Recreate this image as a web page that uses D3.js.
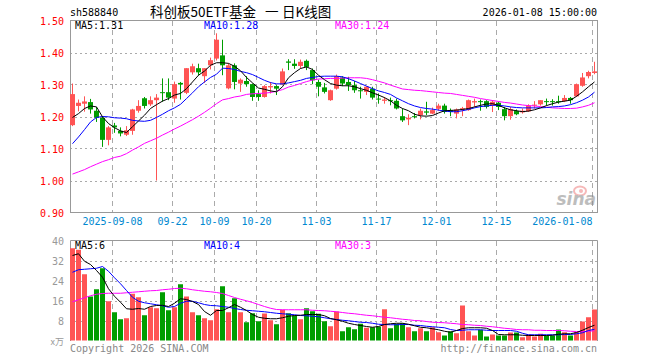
<!DOCTYPE html>
<html>
<head>
<meta charset="utf-8">
<script src="https://cdn.jsdelivr.net/npm/d3@7"></script>
<style>
  body { margin: 0; background: #fff; }
  svg text { font-family: "DejaVu Sans Mono", monospace; font-size: 10px; }
</style>
</head>
<body>
<div id="chart"></div>
<script>
// daily candles, 2025-08-28 .. 2026-01-08 (88 trading days)
var open  = [1.173,1.233,1.240,1.245,1.218,1.196,1.127,1.172,1.155,1.143,1.155,1.218,1.257,1.238,1.251,1.276,1.276,1.256,1.305,1.274,1.338,1.351,1.326,1.360,1.381,
             1.391,1.288,1.360,1.303,1.311,1.301,1.270,1.261,1.291,1.295,1.301,1.372,1.365,1.358,1.374,1.345,1.308,1.291,1.251,1.287,1.322,1.308,1.298,1.282,1.277,1.287,1.256,1.249,1.251,1.249,1.201,1.191,1.201,1.204,1.216,1.209,1.224,
             1.234,1.219,1.209,1.222,1.220,1.244,1.248,1.248,1.235,1.243,1.223,1.201,1.217,1.213,1.216,1.234,1.238,1.248,1.248,1.248,1.248,1.258,1.263,1.296,1.326,1.336];
var close = [1.270,1.243,1.247,1.222,1.196,1.127,1.166,1.166,1.147,1.157,1.222,1.233,1.233,1.251,1.259,1.274,1.259,1.301,1.300,1.351,1.357,1.338,1.351,1.376,1.440,
             1.360,1.360,1.308,1.315,1.301,1.261,1.261,1.295,1.295,1.287,1.341,1.368,1.358,1.371,1.355,1.313,1.293,1.277,1.282,1.326,1.303,1.298,1.282,1.280,1.293,1.259,1.253,1.253,1.249,1.225,1.188,1.196,1.199,1.218,1.212,1.220,1.234,
             1.214,1.214,1.222,1.226,1.251,1.248,1.246,1.230,1.246,1.230,1.201,1.223,1.207,1.218,1.234,1.237,1.251,1.245,1.245,1.245,1.258,1.251,1.301,1.322,1.339,1.341];
var high  = [1.303,1.253,1.263,1.255,1.230,1.201,1.170,1.180,1.166,1.170,1.224,1.251,1.261,1.263,1.270,1.319,1.319,1.309,1.308,1.351,1.365,1.365,1.351,1.384,1.460,
             1.440,1.366,1.366,1.319,1.326,1.303,1.282,1.298,1.308,1.298,1.350,1.379,1.379,1.378,1.378,1.350,1.315,1.305,1.284,1.331,1.326,1.324,1.311,1.293,1.295,1.293,1.272,1.261,1.259,1.256,1.225,1.207,1.211,1.225,1.246,1.228,1.240,
             1.240,1.225,1.225,1.230,1.253,1.256,1.253,1.251,1.251,1.246,1.230,1.230,1.222,1.225,1.238,1.248,1.251,1.256,1.254,1.265,1.267,1.261,1.303,1.336,1.343,1.371];
var low   = [1.170,1.216,1.215,1.209,1.183,1.105,1.110,1.149,1.138,1.139,1.143,1.212,1.225,1.233,1.000,1.246,1.251,1.243,1.253,1.270,1.331,1.328,1.305,1.347,1.375,
             1.329,1.285,1.285,1.277,1.293,1.249,1.249,1.259,1.272,1.267,1.298,1.345,1.349,1.350,1.345,1.301,1.263,1.272,1.249,1.284,1.295,1.280,1.274,1.256,1.267,1.253,1.240,1.240,1.235,1.222,1.183,1.173,1.194,1.191,1.204,1.207,1.218,
             1.209,1.201,1.194,1.201,1.218,1.230,1.218,1.225,1.214,1.220,1.188,1.190,1.204,1.209,1.214,1.225,1.234,1.234,1.234,1.240,1.245,1.240,1.261,1.293,1.319,1.332];
// price moving averages
var ma5  = [1.197,1.209,1.225,1.233,1.230,1.199,1.178,1.165,1.155,1.150,1.168,1.186,1.204,1.225,1.237,1.248,1.256,1.267,1.272,1.287,1.308,1.329,1.342,1.360,1.368,
            1.368,1.366,1.357,1.343,1.322,1.305,1.289,1.285,1.280,1.277,1.293,1.321,1.337,1.350,1.355,1.347,1.329,1.315,1.303,1.298,1.296,1.296,1.293,1.287,1.282,1.274,1.267,1.259,1.249,1.235,1.225,1.218,1.207,1.202,1.201,1.203,1.211,
            1.218,1.219,1.220,1.222,1.225,1.230,1.235,1.239,1.240,1.235,1.227,1.221,1.218,1.215,1.217,1.221,1.227,1.234,1.240,1.245,1.248,1.251,1.263,1.277,1.293,1.308];
var ma10 = [1.115,1.136,1.159,1.183,1.197,1.200,1.199,1.196,1.195,1.193,1.188,1.186,1.185,1.188,1.197,1.207,1.218,1.227,1.238,1.256,1.274,1.293,1.308,1.322,1.332,
            1.351,1.350,1.347,1.341,1.337,1.331,1.322,1.313,1.306,1.302,1.302,1.305,1.309,1.313,1.319,1.322,1.325,1.326,1.326,1.326,1.324,1.318,1.311,1.303,1.295,1.287,1.280,1.275,1.269,1.258,1.249,1.240,1.233,1.228,1.225,1.223,1.220,
            1.217,1.215,1.215,1.218,1.222,1.227,1.231,1.233,1.235,1.235,1.233,1.230,1.228,1.227,1.227,1.227,1.227,1.228,1.230,1.231,1.233,1.237,1.243,1.251,1.261,1.276];
var ma30 = [1.020,1.027,1.034,1.043,1.051,1.059,1.065,1.072,1.076,1.084,1.095,1.105,1.116,1.124,1.132,1.142,1.151,1.161,1.170,1.180,1.190,1.201,1.213,1.226,1.240,
            1.252,1.256,1.261,1.264,1.269,1.271,1.272,1.273,1.275,1.279,1.284,1.292,1.297,1.303,1.309,1.314,1.317,1.318,1.319,1.319,1.320,1.321,1.321,1.321,1.319,1.315,1.310,1.305,1.298,1.292,1.286,1.284,1.282,1.281,1.279,1.277,1.275,
            1.273,1.272,1.269,1.266,1.263,1.260,1.256,1.253,1.250,1.247,1.244,1.242,1.239,1.236,1.234,1.233,1.231,1.229,1.227,1.226,1.225,1.225,1.226,1.230,1.235,1.243];
// volume (万手) and its moving averages
var vol = [36.9,36.3,26.5,17.6,20.5,28.9,15.7,11.3,8.5,8.9,18.7,17.3,10.1,13.3,12.9,19.3,12.1,13.3,22.5,17.6,11.3,10.1,8.9,8.1,12.5,
           21.7,11.3,16.9,11.3,7.3,10.9,7.7,10.8,8.1,6.5,12.3,10.9,10.0,8.5,12.9,11.7,10.7,7.7,5.7,11.6,3.7,5.3,4.5,6.7,5.1,5.3,5.5,12.5,4.9,6.7,6.9,5.3,3.7,4.9,3.7,5.3,3.3,
           2.0,3.7,2.9,14.0,3.7,2.0,4.3,1.6,2.4,2.0,2.0,3.2,3.2,1.3,2.4,1.6,2.7,2.0,2.0,4.4,3.3,2.0,3.3,7.6,9.3,12.4];
var vma5 = [34.0,34.7,31.7,30.4,28.0,25.3,20.7,17.7,15.3,12.7,12.5,12.8,12.5,13.6,14.0,14.1,13.6,14.9,16.7,16.4,15.6,14.4,11.6,10.1,12.0,
            12.0,13.1,14.4,13.3,12.0,10.4,9.3,8.9,8.7,8.7,9.1,9.7,10.0,10.1,10.4,10.4,10.4,9.9,8.8,8.3,7.7,6.9,6.4,6.0,5.6,5.3,5.6,6.4,6.7,6.9,6.9,6.5,5.9,5.3,5.1,4.7,4.3,
            3.7,3.3,4.0,4.8,5.1,5.1,5.1,4.9,4.0,2.4,2.3,2.3,2.3,2.1,2.0,2.0,2.0,2.0,2.1,2.5,2.7,2.7,3.2,4.1,5.2,6.1];
var vma10 = [27.3,28.3,28.5,28.7,28.9,29.6,27.7,25.1,22.7,20.0,17.3,15.7,15.1,14.7,14.3,13.9,13.3,13.6,14.9,15.7,15.7,15.1,14.4,14.0,13.9,
             13.6,13.3,12.8,12.4,12.1,11.9,11.7,11.5,11.2,10.9,10.7,10.5,10.3,10.0,9.9,9.7,9.5,9.1,8.7,8.4,8.1,7.9,7.6,7.3,7.2,6.9,6.5,6.4,6.3,6.3,6.4,6.4,6.1,6.0,5.7,5.5,5.3,
             5.1,4.4,4.0,4.1,4.3,4.3,4.3,4.1,4.0,4.0,4.0,4.0,3.7,2.9,2.3,2.3,2.3,2.3,2.3,2.3,2.4,2.4,2.7,3.1,4.0,4.5];
var vma30 = [15.5,16.3,17.1,17.9,18.5,18.8,18.9,18.9,18.9,19.1,19.3,19.5,19.7,19.9,20.0,20.3,20.5,20.8,20.9,20.7,20.3,20.0,19.7,19.5,19.2,
             18.8,18.0,17.2,16.5,15.9,15.2,14.4,13.6,12.9,12.4,12.3,12.3,12.3,12.3,12.3,12.1,12.0,11.9,11.7,11.5,11.2,10.9,10.7,10.4,10.1,9.9,9.6,9.3,9.1,8.8,8.5,8.3,8.0,7.9,7.6,7.3,7.2,
             7.1,6.9,6.7,6.4,6.3,6.1,6.0,5.7,5.5,5.2,4.9,4.7,4.4,4.3,4.3,4.1,4.1,4.0,4.0,4.0,3.9,3.7,3.6,3.6,3.7,3.9];

var tickLabels = ["2025-09-08","09-22","10-09","10-20","11-03","11-17","12-01","12-15","2026-01-08"];
var tickIndex  = [7,17,24,31,41,51,61,71,87];
var priceTicks = [0.90,1.00,1.10,1.20,1.30,1.40,1.50];
var volTicks   = [8,16,24,32,40];

var W = 660, H = 360;
var red = "#ff5454", green = "#009d00";
var svg = d3.select("#chart").append("svg").attr("width", W).attr("height", H);

var x = d3.scaleLinear().domain([0, 88]).range([70, 598]);
var y = d3.scaleLinear().domain([0.9, 1.5]).range([212.5, 20.5]);
var yv = d3.scaleLinear().domain([0, 40]).range([340.5, 240.5]);

// header
svg.append("text").attr("x", 70).attr("y", 16).attr("fill", "#000").text("sh588840");
var title = svg.append("text").attr("y", 17).attr("fill", "#000")
    .style("font-family", "'Noto Sans CJK SC', sans-serif").style("font-size", "13.5px");
title.append("tspan").attr("x", 150).text("科创板50ETF基金 ");
title.append("tspan").attr("x", 265).text("一 ");
title.append("tspan").attr("x", 282).text("日K线图");
svg.append("text").attr("x", 597).attr("y", 16).attr("text-anchor", "end").attr("fill", "#000").text("2026-01-08 15:00:00");

// grids
function grid(g, sc, ticks, y0, y1) {
    g.selectAll(".h").data(ticks).join("line")
        .attr("x1", 70).attr("x2", 597)
        .attr("y1", d => Math.round(sc(d)) + 0.5).attr("y2", d => Math.round(sc(d)) + 0.5)
        .attr("stroke", "#aaa").attr("stroke-dasharray", "2,3");
    g.selectAll(".v").data(tickIndex).join("line")
        .attr("x1", d => x(d) + 0.5).attr("x2", d => x(d) + 0.5)
        .attr("y1", y0).attr("y2", y1)
        .attr("stroke", "#aaa").attr("stroke-dasharray", "5,4");
}
grid(svg.append("g"), y, [1.0, 1.1, 1.2, 1.3, 1.4], 21, 212);
grid(svg.append("g"), yv, [8, 16, 24, 32], 241, 340);

// watermark
var wm = svg.append("g").attr("opacity", 0.55);
wm.append("ellipse").attr("cx", 580).attr("cy", 191).attr("rx", 6).attr("ry", 4.5).attr("fill", "none").attr("stroke", "#f08080").attr("stroke-width", 2);
wm.append("circle").attr("cx", 581).attr("cy", 191).attr("r", 2).attr("fill", "#f08080");
wm.append("text").attr("x", 596).attr("y", 205).attr("text-anchor", "end")
    .style("font-family", "'DejaVu Sans', sans-serif").style("font-size", "17px")
    .style("font-weight", "bold").style("font-style", "italic").attr("fill", "#888").text("sina");

// frames
svg.append("rect").attr("x", 70.5).attr("y", 20.5).attr("width", 527).attr("height", 192)
    .attr("fill", "none").attr("stroke", "#999");
svg.append("path").attr("d", "M70.5,341V240.5H597.5V341").attr("fill", "none").attr("stroke", "#999");

// axes labels
svg.append("g").selectAll("text").data(priceTicks).join("text")
    .attr("x", 64).attr("y", d => y(d) + 4).attr("text-anchor", "end").attr("fill", "#f00")
    .text(d => d.toFixed(2));
svg.append("g").selectAll("text").data(volTicks).join("text")
    .attr("x", 64).attr("y", d => yv(d) + 4).attr("text-anchor", "end").attr("fill", "#999")
    .text(d => d);
svg.append("text").attr("x", 64).attr("y", 345).attr("text-anchor", "end").attr("fill", "#999")
    .style("font-family", "'Noto Sans CJK SC', sans-serif").style("font-size", "9px").text("x万");
svg.append("g").selectAll("text").data(tickIndex).join("text")
    .attr("x", d => x(d) + 0.5).attr("y", 225)
    .attr("text-anchor", (d, i) => i == tickIndex.length - 1 ? "end" : "middle")
    .attr("fill", "#0088d0").text((d, i) => tickLabels[i]);

// candles
var idx = d3.range(close.length);
var cg = svg.append("g");
cg.selectAll("line").data(idx).join("line")
    .attr("x1", i => x(i) + 2.5).attr("x2", i => x(i) + 2.5)
    .attr("y1", i => y(high[i])).attr("y2", i => y(low[i]))
    .attr("stroke", i => close[i] >= open[i] ? red : green);
cg.selectAll("rect").data(idx).join("rect")
    .attr("x", i => x(i)).attr("width", 5)
    .attr("y", i => y(Math.max(open[i], close[i])))
    .attr("height", i => Math.max(1, Math.abs(y(open[i]) - y(close[i]))))
    .attr("fill", i => close[i] >= open[i] ? red : green);

// volume bars
svg.append("g").selectAll("rect").data(idx).join("rect")
    .attr("x", i => x(i)).attr("width", 5)
    .attr("y", i => yv(vol[i])).attr("height", i => yv(0) - yv(vol[i]))
    .attr("fill", i => close[i] >= open[i] ? red : green);

// moving average lines
function maLine(arr, sc, col) {
    svg.append("path").datum(arr)
        .attr("d", d3.line().x((d, i) => x(i) + 2.5).y(d => sc(d)))
        .attr("fill", "none").attr("stroke", col).attr("stroke-width", 1);
}
maLine(ma30, y, "#ff00ff"); maLine(ma10, y, "#0000ff"); maLine(ma5, y, "#000");
maLine(vma30, yv, "#ff00ff"); maLine(vma10, yv, "#0000ff"); maLine(vma5, yv, "#000");

// legends
function legend(yy, a, b, c) {
    svg.append("text").attr("x", 75).attr("y", yy).attr("fill", "#000").text(a);
    svg.append("text").attr("x", 204).attr("y", yy).attr("fill", "#0000ff").text(b);
    svg.append("text").attr("x", 335).attr("y", yy).attr("fill", "#ff00ff").text(c);
}
legend(29, "MA5:1.31", "MA10:1.28", "MA30:1.24");
legend(249, "MA5:6", "MA10:4", "MA30:3");

// footer
svg.append("text").attr("x", 70).attr("y", 352).attr("fill", "#888").text("Copyright 2026 SINA.COM");
svg.append("text").attr("x", 597).attr("y", 352).attr("text-anchor", "end").attr("fill", "#888").text("http://finance.sina.com.cn");
</script>
</body>
</html>
